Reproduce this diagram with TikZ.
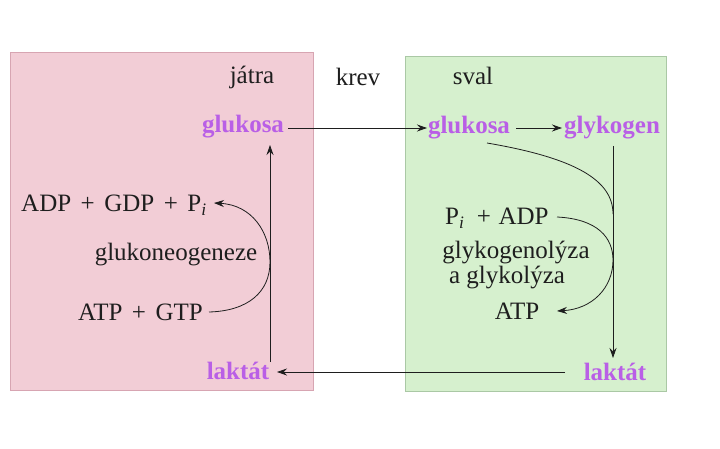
\documentclass[tikz,border=0pt]{standalone}
\usepackage{fontspec}
\setmainfont{Liberation Serif}
\usetikzlibrary{arrows.meta}
\definecolor{pinkfill}{RGB}{242,205,214}
\definecolor{pinkedge}{RGB}{215,165,178}
\definecolor{greenfill}{RGB}{214,240,206}
\definecolor{greenedge}{RGB}{170,200,165}
\definecolor{bioviolet}{RGB}{185,95,230}
\definecolor{inkgray}{RGB}{30,30,30}
\newcommand{\plussp}{\hspace{0.38em}+\hspace{0.38em}}
\tikzset{
  txt/.style={inner sep=0pt, text=inkgray, font=\fontsize{25}{29}\selectfont},
  bio/.style={inner sep=0pt, text=bioviolet, font=\fontsize{25}{29}\selectfont\bfseries},
  conn/.style={draw=inkgray, line width=0.8pt},
  arr/.style={conn, -{Stealth[length=10pt,width=7pt]}},
}
\begin{document}
\begin{tikzpicture}[x=1pt,y=-1pt]
\useasboundingbox (0,0) rectangle (720,449);
\fill[white] (0,0) rectangle (720,449);
% compartments
\draw[fill=pinkfill, draw=pinkedge, line width=0.6pt] (10,52) rectangle (313,390);
\draw[fill=greenfill, draw=greenedge, line width=0.6pt] (405,56) rectangle (666,391);
% headings
\node[txt] (jatra) at (252,77) {játra};
\node[txt] (krev) at (358,77) {krev};
\node[txt] (sval) at (473,76) {sval};
% metabolites
\node[bio] (gl) at (243,127) {glukosa};
\node[bio] (gr) at (469,128) {glukosa};
\node[bio] (gk) at (612,128) {glykogen};
\node[bio] (ll) at (238,371) {laktát};
\node[bio] (lr) at (615,372) {laktát};
% liver labels
\node[txt, anchor=west] (adp) at (21,205) {ADP\plussp GDP\plussp P\textsubscript{\itshape i}};
\node[txt] (gng) at (176,255) {glukoneogeneze};
\node[txt, anchor=east] (atpg) at (203,312) {ATP\plussp GTP};
% muscle labels
\node[txt, anchor=west] (pi) at (445,218) {P\textsubscript{\itshape i}\hspace{0.5em}+\hspace{0.3em}ADP};
\node[txt] (gly1) at (516,253) {glykogenolýza};
\node[txt] (gly2) at (507,278) {a glykolýza};
\node[txt] (atp) at (517,311) {ATP};
% coordinates
\coordinate (lvbot) at (270,362);
\coordinate (lvtop) at (270,145);
\coordinate (rvtop) at (613,146);
\coordinate (rvbot) at (613,358);
\coordinate (glstart) at (288,128);
\coordinate (grend) at (427,128);
\coordinate (gkstart) at (516,128);
\coordinate (gkend) at (562,128);
\coordinate (lrstart) at (565,372);
\coordinate (llend) at (277,372);
% connectors
\draw[arr] (glstart) -- (grend);
\draw[arr] (gkstart) -- (gkend);
\draw[arr] (lrstart) -- (llend);
\draw[arr] (lvbot) -- (lvtop);
\draw[arr] (rvtop) -- (rvbot);
% liver curve
\draw[arr] (atpg.east) ++(6,0) .. controls (248,311) and (270,292) .. (270,262)
   .. controls (270,232) and (252,205) .. (214,203);
% muscle curves
\draw[conn] (487,143) .. controls (575,158) and (613,180) .. (613,214);
\draw[arr] (557,217) .. controls (598,219) and (613,238) .. (613,260)
   .. controls (613,288) and (592,309) .. (557,311);
\end{tikzpicture}
\end{document}
